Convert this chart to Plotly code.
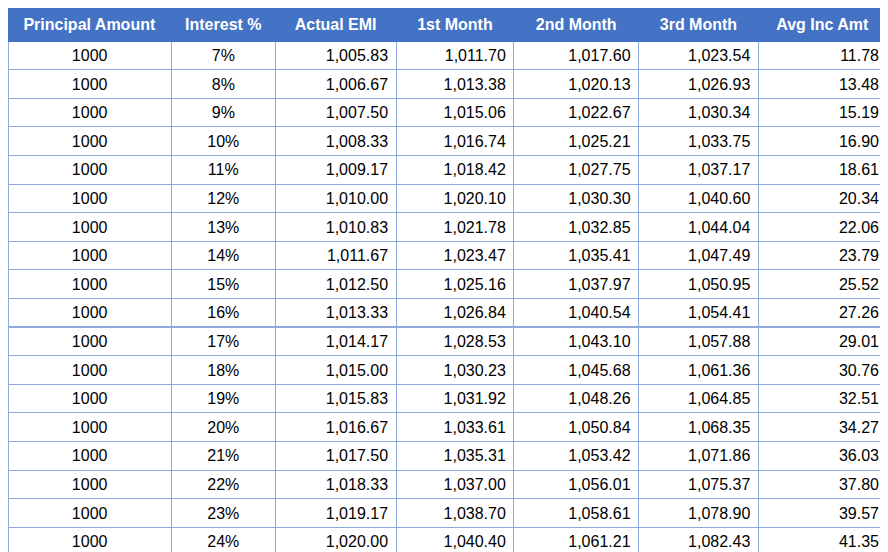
import plotly.graph_objects as go

headers = ["Principal Amount", "Interest %", "Actual EMI", "1st Month", "2nd Month", "3rd Month", "Avg Inc Amt"]
principal = ["1000"] * 18
interest = [f"{r}%" for r in range(7, 25)]
actual_emi = ["1,005.83", "1,006.67", "1,007.50", "1,008.33", "1,009.17", "1,010.00", "1,010.83", "1,011.67", "1,012.50",
              "1,013.33", "1,014.17", "1,015.00", "1,015.83", "1,016.67", "1,017.50", "1,018.33", "1,019.17", "1,020.00"]
month1 = ["1,011.70", "1,013.38", "1,015.06", "1,016.74", "1,018.42", "1,020.10", "1,021.78", "1,023.47", "1,025.16",
          "1,026.84", "1,028.53", "1,030.23", "1,031.92", "1,033.61", "1,035.31", "1,037.00", "1,038.70", "1,040.40"]
month2 = ["1,017.60", "1,020.13", "1,022.67", "1,025.21", "1,027.75", "1,030.30", "1,032.85", "1,035.41", "1,037.97",
          "1,040.54", "1,043.10", "1,045.68", "1,048.26", "1,050.84", "1,053.42", "1,056.01", "1,058.61", "1,061.21"]
month3 = ["1,023.54", "1,026.93", "1,030.34", "1,033.75", "1,037.17", "1,040.60", "1,044.04", "1,047.49", "1,050.95",
          "1,054.41", "1,057.88", "1,061.36", "1,064.85", "1,068.35", "1,071.86", "1,075.37", "1,078.90", "1,082.43"]
avg_inc = ["11.78", "13.48", "15.19", "16.90", "18.61", "20.34", "22.06", "23.79", "25.52",
           "27.26", "29.01", "30.76", "32.51", "34.27", "36.03", "37.80", "39.57", "41.35"]

fig = go.Figure(go.Table(
    columnwidth=[165, 105, 122, 119, 126, 121, 130],
    header=dict(values=[f"<b>{h}</b>" for h in headers],
                fill_color="#4472C4", line_color="#4472C4",
                font=dict(family="Liberation Sans", size=16, color="white"),
                align="center", height=26),
    cells=dict(values=[principal, interest, actual_emi, month1, month2, month3, avg_inc],
               fill_color="white", line_color="#8EA9DB",
               font=dict(family="Liberation Sans", size=16, color="black"),
               align=["center", "center", "right", "right", "right", "right", "right"],
               height=28.6),
    domain=dict(x=[0, 0.99], y=[0, 1]),
))
fig.update_layout(width=888, height=552, margin=dict(l=0, r=0, t=0, b=0), paper_bgcolor="white")
fig.write_html("out.html")
